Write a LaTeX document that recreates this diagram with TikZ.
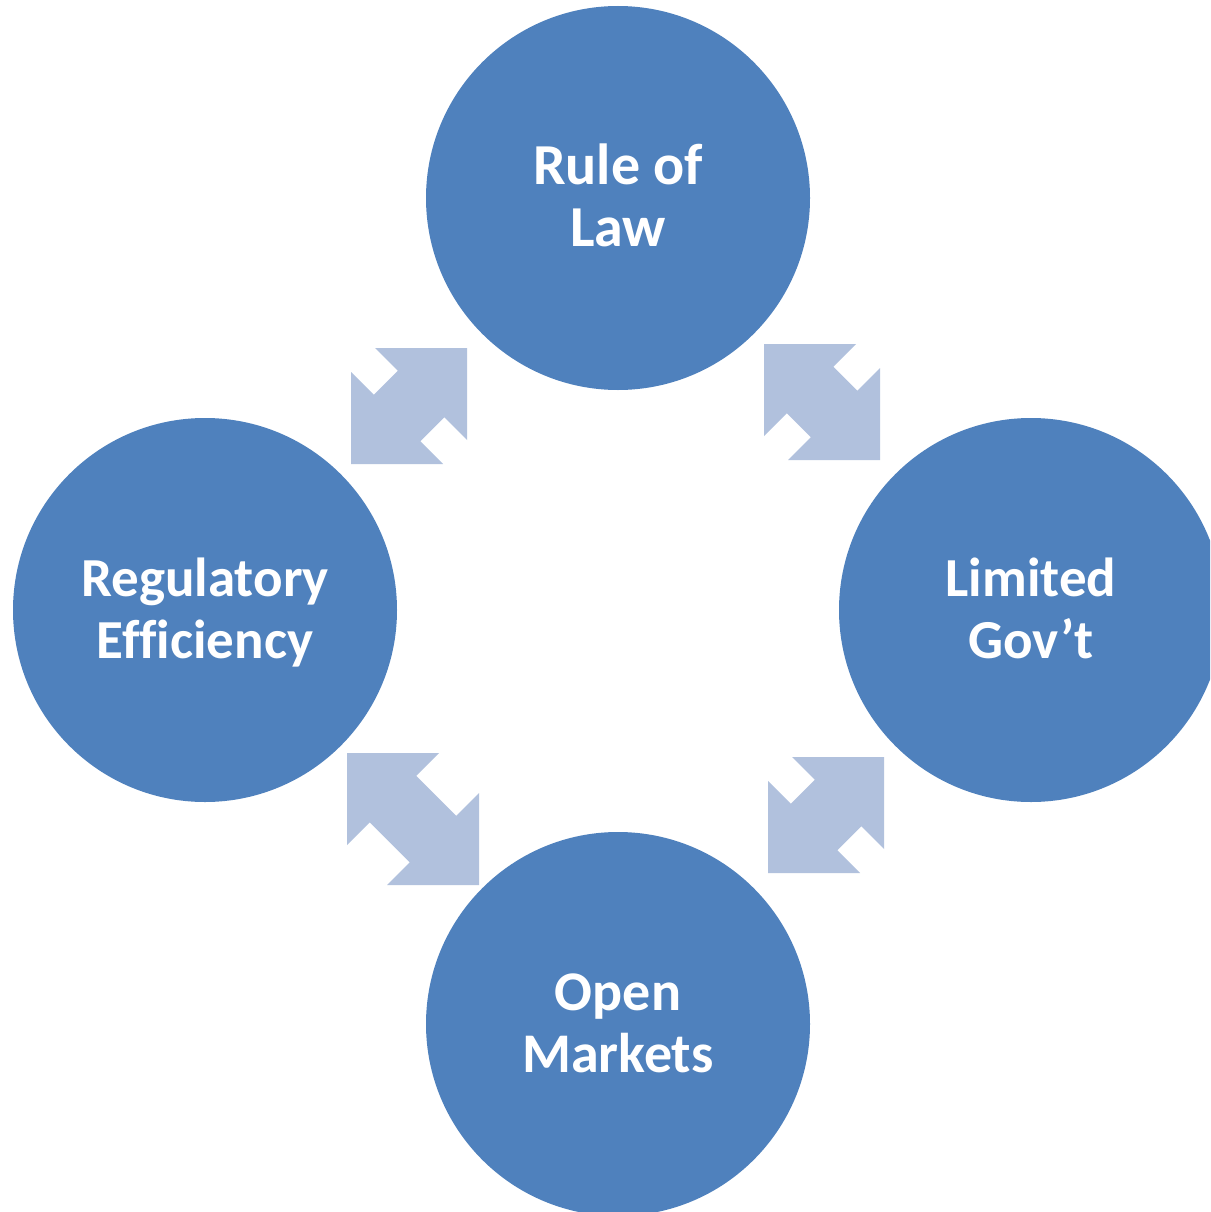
\documentclass[tikz,border=0pt]{standalone}
\usepackage{fontspec}
\setmainfont{Carlito}[Ligatures=NoCommon]
\definecolor{circblue}{HTML}{4F81BD}
\definecolor{arrowblue}{HTML}{B1C1DD}
\begin{document}
\begin{tikzpicture}[x=1pt,y=-1pt,
  bubble/.style={circle,fill=circblue,draw=none,minimum size=384pt,inner sep=0pt,
    text=white,align=center,font=\fontsize{#1}{62}\selectfont\bfseries,
    text height=96pt,text depth=0pt},
  bubble/.default=56,
  pics/dblarrow/.style={code={
    \fill[arrowblue] (0,#1) -- (0,#1-92) -- (22.75,#1-69.25) -- (#1-69.25,22.75)
      -- (#1-92,0) -- (#1,0) -- (#1,92) -- (#1-22.75,69.25) -- (69.25,#1-22.75)
      -- (92,#1) -- cycle;
  }}]
\fill[white] (0,0) rectangle (1210,1212);
\useasboundingbox (0,0) rectangle (1210,1212);
\clip (0,0) rectangle (1210,1212);
\node[bubble=58] (law) at (618,198) {Rule of\\Law};
\node[bubble=55] (reg) at (205,610) {Regulatory\\Efficiency};
\node[bubble=55] (gov) at (1031,610) {Limited\\Gov’t};
\node[bubble=56] (mkt) at (618,1024) {Open\\Markets};
\pic at (351,348) {dblarrow=116};
\pic[xscale=-1] at (880,344) {dblarrow=116};
\pic[xscale=-1] at (479,753) {dblarrow=132};
\pic at (768,757) {dblarrow=116};
\end{tikzpicture}
\end{document}
